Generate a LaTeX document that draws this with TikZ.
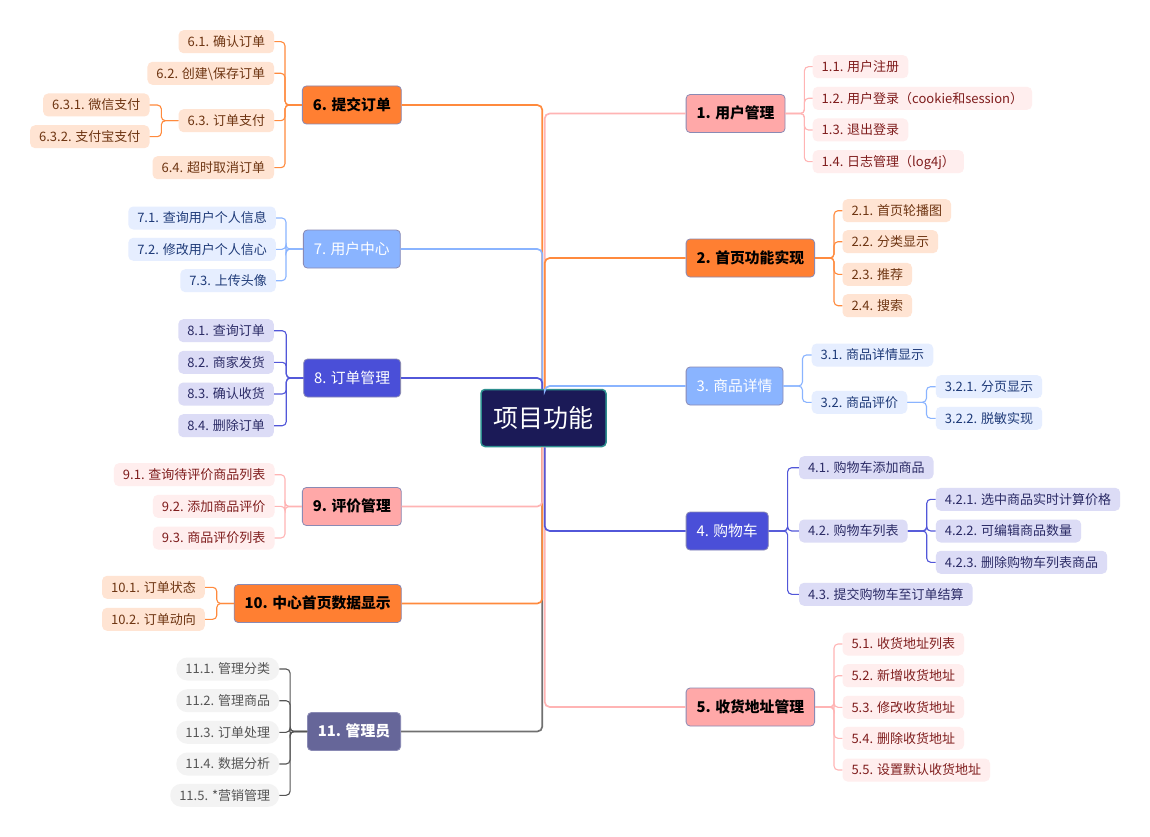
\documentclass[tikz,border=0pt]{standalone}
\usepackage{fontspec}
\setmainfont{Noto Sans CJK SC}
\usepackage{tikz}

\definecolor{rootfill}{HTML}{1B1A57}
\definecolor{rootline}{HTML}{2E8F8F}
\definecolor{topicline}{HTML}{8A8AB4}
\definecolor{pinkM}{HTML}{FFA8A8}
\definecolor{pinkL}{HTML}{FFB4B4}
\definecolor{pinkC}{HTML}{FFEEEE}
\definecolor{pinkT}{HTML}{7F1D1D}
\definecolor{orangeM}{HTML}{FF7F32}
\definecolor{orangeL}{HTML}{FF8A3D}
\definecolor{orangeC}{HTML}{FFE4D3}
\definecolor{orangeT}{HTML}{6E3512}
\definecolor{skyM}{HTML}{8AB4FF}
\definecolor{skyL}{HTML}{8AB4FF}
\definecolor{skyC}{HTML}{E6EEFF}
\definecolor{skyT}{HTML}{1E3A78}
\definecolor{royalM}{HTML}{4A4FD8}
\definecolor{royalL}{HTML}{5257D9}
\definecolor{royalC}{HTML}{DCDCF6}
\definecolor{royalT}{HTML}{2B2B66}
\definecolor{slateM}{HTML}{666699}
\definecolor{slateL}{HTML}{707070}
\definecolor{slateC}{HTML}{F3F3F3}
\definecolor{slateT}{HTML}{555555}

\begin{document}
\begin{tikzpicture} [x=1pt, y=-1pt,
	rootnode/.style = {draw=rootline, fill=rootfill, text=white, line width=1.5pt, rounded corners=4pt,
		inner xsep=12.5pt, inner ysep=15.5pt, text height=22pt, text depth=4pt, font=\fontsize{25}{26}\selectfont},
	topic/.style = {draw=topicline, line width=0.8pt, rounded corners=4pt, inner xsep=10.5pt, inner ysep=0pt,
		minimum height=38pt, text height=13pt, text depth=2.5pt},
	darktopic/.style = {topic, text=black, font=\fontsize{14.8}{15}\selectfont\bfseries},
	lighttopic/.style = {topic, text=white, font=\fontsize{14.8}{15}\selectfont},
	leaf/.style = {rounded corners=5pt, inner xsep=9pt, inner ysep=4.75pt, text height=11.5pt, text depth=2pt,
		font=\fontsize{13}{13}\selectfont},
	pinkleaf/.style = {leaf, fill=pinkC, text=pinkT},
	orangeleaf/.style = {leaf, fill=orangeC, text=orangeT},
	skyleaf/.style = {leaf, fill=skyC, text=skyT},
	royalleaf/.style = {leaf, fill=royalC, text=royalT},
	slateleaf/.style = {leaf, rounded corners=11pt, fill=slateC, text=slateT},
	stem/.style = {line width=1.7pt, rounded corners=5pt, to path={|- (\tikztotarget)}},
	forkR/.style = {line width=1.1pt, rounded corners=4pt, to path={-- ++(19,0) |- (\tikztotarget)}},
	forkL/.style = {line width=1.1pt, rounded corners=4pt, to path={-- ++(-17,0) |- (\tikztotarget)}}]

		\fill [white] (0,0) rectangle (1150,837);
		\useasboundingbox (0,0) rectangle (1150,837);

		% Root : every branch leaves it from the trunk at its centre
		\node (root) [rootnode] at (543.5,418) {项目功能};

		% Topics on the right
		\node (m1) [darktopic, fill=pinkM, anchor=west] at (685.7,113.5) {1. 用户管理};
		\node (m2) [darktopic, fill=orangeM, anchor=west] at (685.7,258) {2. 首页功能实现};
		\node (m3) [lighttopic, fill=skyM, anchor=west] at (685.7,386) {3. 商品详情};
		\node (m4) [lighttopic, fill=royalM, anchor=west] at (685.7,531) {4. 购物车};
		\node (m5) [darktopic, fill=pinkM, anchor=west] at (685.7,707) {5. 收货地址管理};

		% Topics on the left
		\node (m6) [darktopic, fill=orangeM, anchor=east] at (401.7,105) {6. 提交订单};
		\node (m7) [lighttopic, fill=skyM, anchor=east] at (400.7,249) {7. 用户中心};
		\node (m8) [lighttopic, fill=royalM, anchor=east] at (401,378) {8. 订单管理};
		\node (m9) [darktopic, fill=pinkM, anchor=east] at (401.7,506.5) {9. 评价管理};
		\node (m10) [darktopic, fill=orangeM, anchor=east] at (401.7,603.5) {10. 中心首页数据显示};
		\node (m11) [lighttopic, fill=slateM, anchor=east, font=\fontsize{14.8}{15}\selectfont\bfseries] at (401,731.5) {11. 管理员};

		% 1
		\node (c11) [pinkleaf, anchor=west] at (812.5,66.7) {1.1. 用户注册};
		\node (c12) [pinkleaf, anchor=west] at (812.5,98.3) {1.2. 用户登录（cookie和session）};
		\node (c13) [pinkleaf, anchor=west] at (812.5,130) {1.3. 退出登录};
		\node (c14) [pinkleaf, anchor=west] at (812.5,161.7) {1.4. 日志管理（log4j）};
		% 2
		\node (c21) [orangeleaf, anchor=west] at (842.3,210.7) {2.1. 首页轮播图};
		\node (c22) [orangeleaf, anchor=west] at (842.3,241.7) {2.2. 分类显示};
		\node (c23) [orangeleaf, anchor=west] at (842.3,274.3) {2.3. 推荐};
		\node (c24) [orangeleaf, anchor=west] at (842.3,305.7) {2.4. 搜索};
		% 3
		\node (c31) [skyleaf, anchor=west] at (811.5,355) {3.1. 商品详情显示};
		\node (c32) [skyleaf, anchor=west] at (811.5,402.3) {3.2. 商品评价};
		\node (c321) [skyleaf, anchor=west] at (935.6,386.7) {3.2.1. 分页显示};
		\node (c322) [skyleaf, anchor=west] at (935.6,418.3) {3.2.2. 脱敏实现};
		% 4
		\node (c41) [royalleaf, anchor=west] at (798.8,467.7) {4.1. 购物车添加商品};
		\node (c42) [royalleaf, anchor=west] at (798.8,531) {4.2. 购物车列表};
		\node (c43) [royalleaf, anchor=west] at (798.8,594.3) {4.3. 提交购物车至订单结算};
		\node (c421) [royalleaf, anchor=west] at (935.6,499.3) {4.2.1. 选中商品实时计算价格};
		\node (c422) [royalleaf, anchor=west] at (935.6,531) {4.2.2. 可编辑商品数量};
		\node (c423) [royalleaf, anchor=west] at (935.6,562.3) {4.2.3. 删除购物车列表商品};
		% 5
		\node (c51) [pinkleaf, anchor=west] at (842.3,644) {5.1. 收货地址列表};
		\node (c52) [pinkleaf, anchor=west] at (842.3,675.7) {5.2. 新增收货地址};
		\node (c53) [pinkleaf, anchor=west] at (842.3,707.3) {5.3. 修改收货地址};
		\node (c54) [pinkleaf, anchor=west] at (842.3,738.3) {5.4. 删除收货地址};
		\node (c55) [pinkleaf, anchor=west] at (842.3,770) {5.5. 设置默认收货地址};
		% 6
		\node (c61) [orangeleaf, anchor=east] at (274.3,41.7) {6.1. 确认订单};
		\node (c62) [orangeleaf, anchor=east] at (274.3,73.3) {6.2. 创建\textbackslash 保存订单};
		\node (c63) [orangeleaf, anchor=east] at (274.3,120.7) {6.3. 订单支付};
		\node (c64) [orangeleaf, anchor=east] at (274.3,167.7) {6.4. 超时取消订单};
		\node (c631) [orangeleaf, anchor=east] at (149.7,105) {6.3.1. 微信支付};
		\node (c632) [orangeleaf, anchor=east] at (149.7,136.7) {6.3.2. 支付宝支付};
		% 7
		\node (c71) [skyleaf, anchor=east] at (276,218) {7.1. 查询用户个人信息};
		\node (c72) [skyleaf, anchor=east] at (276,249.3) {7.2. 修改用户个人信心};
		\node (c73) [skyleaf, anchor=east] at (276,280.7) {7.3. 上传头像};
		% 8
		\node (c81) [royalleaf, anchor=east] at (274,330.7) {8.1. 查询订单};
		\node (c82) [royalleaf, anchor=east] at (274,362.3) {8.2. 商家发货};
		\node (c83) [royalleaf, anchor=east] at (274,394) {8.3. 确认收货};
		\node (c84) [royalleaf, anchor=east] at (274,425.7) {8.4. 删除订单};
		% 9
		\node (c91) [pinkleaf, anchor=east] at (274.7,474.7) {9.1. 查询待评价商品列表};
		\node (c92) [pinkleaf, anchor=east] at (274.7,506.3) {9.2. 添加商品评价};
		\node (c93) [pinkleaf, anchor=east] at (274.7,538) {9.3. 商品评价列表};
		% 10
		\node (c101) [orangeleaf, anchor=east] at (205,587.3) {10.1. 订单状态};
		\node (c102) [orangeleaf, anchor=east] at (205,619.3) {10.2. 订单动向};
		% 11
		\node (c111) [slateleaf, anchor=east] at (279.3,669) {11.1. 管理分类};
		\node (c112) [slateleaf, anchor=east] at (279.3,700.7) {11.2. 管理商品};
		\node (c113) [slateleaf, anchor=east] at (279.3,732.3) {11.3. 订单处理};
		\node (c114) [slateleaf, anchor=east] at (279.3,764) {11.4. 数据分析};
		\node (c115) [slateleaf, anchor=east] at (279.3,795.3) {11.5. *营销管理};

		% Trunk : left branches run a hair left of the centre, right ones a hair right of it
		\path
		([xshift=1.2pt]root.north) edge [stem, pinkL] (m1.west)
		([xshift=1.2pt]root.north) edge [stem, orangeL] (m2.west)
		([xshift=1.2pt]root.north) edge [stem, skyL] (m3.west)
		([xshift=-1.2pt]root.north) edge [stem, orangeL] (m6.east)
		([xshift=-1.2pt]root.north) edge [stem, skyL] (m7.east)
		([xshift=-1.2pt]root.north) edge [stem, royalL] (m8.east)
		([xshift=1.2pt]root.south) edge [stem, pinkL] (m5.west)
		([xshift=1.2pt]root.south) edge [stem, royalL] (m4.west)
		([xshift=-1.2pt]root.south) edge [stem, slateL] (m11.east)
		([xshift=-1.2pt]root.south) edge [stem, orangeL] (m10.east)
		([xshift=-1.2pt]root.south) edge [stem, pinkL] (m9.east);

		% Forks to the leaves
		\path
		% 1
		(m1.east) edge [forkR, pinkL] (c11.west)
		(m1.east) edge [forkR, pinkL] (c12.west)
		(m1.east) edge [forkR, pinkL] (c13.west)
		(m1.east) edge [forkR, pinkL] (c14.west)
		% 2
		(m2.east) edge [forkR, orangeL] (c21.west)
		(m2.east) edge [forkR, orangeL] (c22.west)
		(m2.east) edge [forkR, orangeL] (c23.west)
		(m2.east) edge [forkR, orangeL] (c24.west)
		% 3
		(m3.east) edge [forkR, skyL] (c31.west)
		(m3.east) edge [forkR, skyL] (c32.west)
		(c32.east) edge [forkR, skyL] (c321.west)
		(c32.east) edge [forkR, skyL] (c322.west)
		% 4
		(m4.east) edge [forkR, royalL] (c41.west)
		(m4.east) edge [forkR, royalL] (c42.west)
		(m4.east) edge [forkR, royalL] (c43.west)
		(c42.east) edge [forkR, royalL] (c421.west)
		(c42.east) edge [forkR, royalL] (c422.west)
		(c42.east) edge [forkR, royalL] (c423.west)
		% 5
		(m5.east) edge [forkR, pinkL] (c51.west)
		(m5.east) edge [forkR, pinkL] (c52.west)
		(m5.east) edge [forkR, pinkL] (c53.west)
		(m5.east) edge [forkR, pinkL] (c54.west)
		(m5.east) edge [forkR, pinkL] (c55.west)
		% 6
		(m6.west) edge [forkL, orangeL] (c61.east)
		(m6.west) edge [forkL, orangeL] (c62.east)
		(m6.west) edge [forkL, orangeL] (c63.east)
		(m6.west) edge [forkL, orangeL] (c64.east)
		(c63.west) edge [forkL, orangeL] (c631.east)
		(c63.west) edge [forkL, orangeL] (c632.east)
		% 7
		(m7.west) edge [forkL, skyL] (c71.east)
		(m7.west) edge [forkL, skyL] (c72.east)
		(m7.west) edge [forkL, skyL] (c73.east)
		% 8
		(m8.west) edge [forkL, royalL] (c81.east)
		(m8.west) edge [forkL, royalL] (c82.east)
		(m8.west) edge [forkL, royalL] (c83.east)
		(m8.west) edge [forkL, royalL] (c84.east)
		% 9
		(m9.west) edge [forkL, pinkL] (c91.east)
		(m9.west) edge [forkL, pinkL] (c92.east)
		(m9.west) edge [forkL, pinkL] (c93.east)
		% 10
		(m10.west) edge [forkL, orangeL] (c101.east)
		(m10.west) edge [forkL, orangeL] (c102.east)
		% 11
		(m11.west) edge [forkL, slateT] (c111.east)
		(m11.west) edge [forkL, slateT] (c112.east)
		(m11.west) edge [forkL, slateT] (c113.east)
		(m11.west) edge [forkL, slateT] (c114.east)
		(m11.west) edge [forkL, slateT] (c115.east);
	\end{tikzpicture}
\end{document}
